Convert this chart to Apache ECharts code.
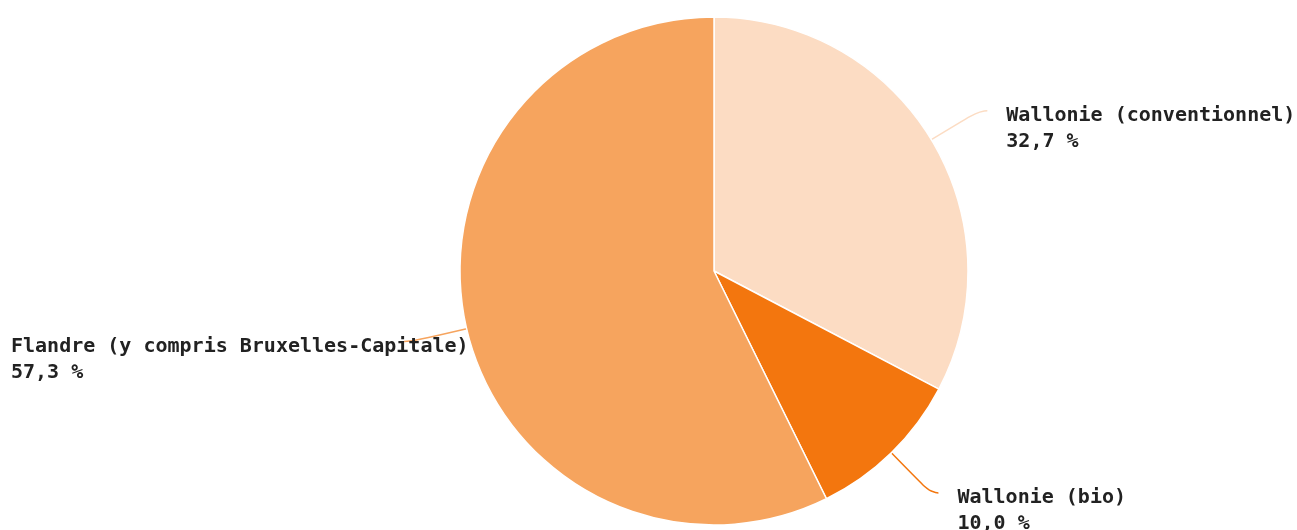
<!DOCTYPE html>
<html>
<head>
<meta charset="utf-8">
<script src="https://cdn.jsdelivr.net/npm/echarts@6/dist/echarts.min.js"></script>
<style>
html,body{margin:0;padding:0;background:#fff;}
#chart{width:1297px;height:530px;}
</style>
</head>
<body>
<div id="chart"></div>
<script>
const categories = ['Wallonie (conventionnel)', 'Wallonie (bio)', 'Flandre (y compris Bruxelles-Capitale)'];
const shares = [32.7, 10.0, 57.3];
const colors = ['#FCDCC3', '#F3760E', '#F6A45E'];

const chart = echarts.init(document.getElementById('chart'), null, {renderer: 'canvas'});
const data = categories.map((name, i) => ({
  name: name,
  value: shares[i],
  itemStyle: {color: colors[i]},
  labelLine: {lineStyle: {color: colors[i]}}
}));

chart.setOption({
  animation: false,
  backgroundColor: '#ffffff',
  series: [{
    type: 'pie',
    center: [714, 271],
    radius: [0, 254],
    startAngle: 90,
    clockwise: true,
    data: data,
    itemStyle: {borderColor: '#ffffff', borderWidth: 1.5},
    emphasis: {disabled: true},
    label: {
      show: true,
      fontFamily: '"DejaVu Sans Mono", monospace',
      fontWeight: 'bold',
      fontSize: 20,
      lineHeight: 26,
      color: '#222222',
      overflow: 'none',
      distanceToLabelLine: 19,
      bleedMargin: 0,
      formatter: p => p.name + '\n' + p.value.toFixed(1).replace('.', ',') + ' %'
    },
    labelLine: {show: true, length: 56, length2: 8, smooth: 0.7, lineStyle: {width: 1.5}},
    labelLayout: function (params) {
      const res = {verticalAlign: 'top', dy: -8, labelLinePoints: params.labelLinePoints};
      if (params.dataIndex === 2) {
        res.x = 11;
        res.align = 'left';
      }
      return res;
    }
  }]
});
</script>
</body>
</html>
